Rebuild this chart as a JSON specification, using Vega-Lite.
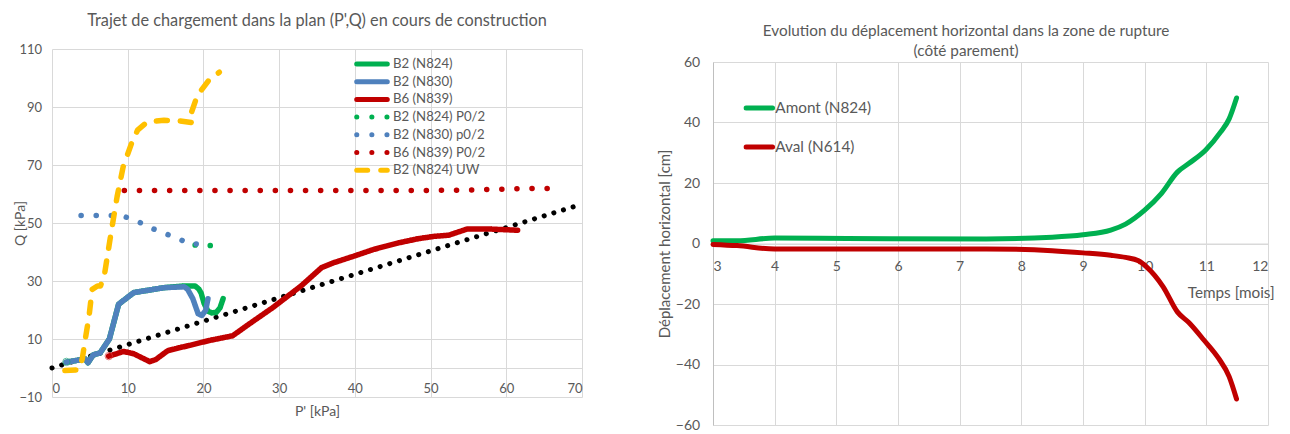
{
  "$schema": "https://vega.github.io/schema/vega-lite/v6.json",
  "padding": {"left": 13, "top": 12, "right": 0, "bottom": 0},
  "background": "white",
  "spacing": 65,
  "resolve": {"scale": {"color": "independent", "strokeDash": "independent"}, "legend": {"color": "independent", "strokeDash": "independent"}},
  "config": {
    "font": "Lato",
    "view": {"stroke": null},
    "axis": {
      "gridColor": "#D9D9D9",
      "domainColor": "#D9D9D9",
      "labelColor": "#595959",
      "titleColor": "#595959",
      "labelFont": "Lato",
      "titleFont": "Lato",
      "ticks": false,
      "titleFontWeight": "normal"
    },
    "title": {"color": "#595959", "fontWeight": "normal", "font": "Lato"},
    "legend": {"labelColor": "#595959", "labelFont": "Lato"}
  },
  "hconcat": [
    {
      "spacing": 0,
      "resolve": {"scale": {"color": "independent", "strokeDash": "independent"}, "legend": {"color": "independent", "strokeDash": "independent"}},
      "vconcat": [
        {"width": 1, "height": 1, "data": {"values": []}, "mark": "point"},
        {
          "width": 530,
          "height": 348,
          "title": {
            "text": "Trajet de chargement dans la plan (P',Q) en cours de construction",
            "fontSize": 16.3,
            "anchor": "middle",
            "frame": "group",
            "offset": 13.4
          },
          "layer": [
            {
              "data": {"values": [{"P": 0, "Q": 0}, {"P": 70, "Q": 56.5}]},
              "mark": {"type": "line", "color": "#000000", "strokeWidth": 5, "strokeDash": [0.1, 10], "strokeCap": "round"},
              "encoding": {
                "x": {
                  "field": "P", "type": "quantitative",
                  "scale": {"domain": [0, 70], "nice": false},
                  "axis": {
                    "values": [0, 10, 20, 30, 40, 50, 60, 70],
                    "offset": -29,
                    "labelFontSize": 13,
                    "labelPadding": 14.4,
                    "title": "P' [kPa]",
                    "titleFontSize": 14,
                    "titlePadding": 8.7
                  }
                },
                "y": {
                  "field": "Q", "type": "quantitative",
                  "scale": {"domain": [-10, 110], "nice": false, "zero": false},
                  "axis": {
                    "values": [-10, 10, 30, 50, 70, 90, 110],
                    "domain": false,
                    "labelFontSize": 13,
                    "labelPadding": 10.5,
                    "title": "Q [kPa]",
                    "titleFontSize": 14,
                    "titlePadding": -9
                  }
                }
              }
            },
            {
              "data": {
                "values": [
                  {"s": "B2 (N824)", "i": 1, "P": 1.87, "Q": 2.0},
                  {"s": "B2 (N824)", "i": 2, "P": 4.4, "Q": 3.1},
                  {"s": "B2 (N824)", "i": 3, "P": 4.75, "Q": 1.8},
                  {"s": "B2 (N824)", "i": 4, "P": 5.44, "Q": 4.5},
                  {"s": "B2 (N824)", "i": 5, "P": 6.35, "Q": 5.2},
                  {"s": "B2 (N824)", "i": 6, "P": 7.58, "Q": 10},
                  {"s": "B2 (N824)", "i": 7, "P": 8.8, "Q": 22},
                  {"s": "B2 (N824)", "i": 8, "P": 10.8, "Q": 26},
                  {"s": "B2 (N824)", "i": 9, "P": 14.8, "Q": 27.7},
                  {"s": "B2 (N824)", "i": 10, "P": 17.45, "Q": 28.3},
                  {"s": "B2 (N824)", "i": 11, "P": 18.9, "Q": 28.3},
                  {"s": "B2 (N824)", "i": 12, "P": 19.4, "Q": 27.2},
                  {"s": "B2 (N824)", "i": 13, "P": 19.7, "Q": 25.8},
                  {"s": "B2 (N824)", "i": 14, "P": 20.1, "Q": 22.2},
                  {"s": "B2 (N824)", "i": 15, "P": 20.6, "Q": 19.6},
                  {"s": "B2 (N824)", "i": 16, "P": 21.1, "Q": 19.0},
                  {"s": "B2 (N824)", "i": 17, "P": 21.7, "Q": 19.2},
                  {"s": "B2 (N824)", "i": 18, "P": 22.2, "Q": 20.8},
                  {"s": "B2 (N824)", "i": 19, "P": 22.6, "Q": 23.9},
                  {"s": "B2 (N830)", "i": 1, "P": 1.87, "Q": 2.0},
                  {"s": "B2 (N830)", "i": 2, "P": 4.4, "Q": 3.1},
                  {"s": "B2 (N830)", "i": 3, "P": 4.75, "Q": 1.8},
                  {"s": "B2 (N830)", "i": 4, "P": 5.44, "Q": 4.5},
                  {"s": "B2 (N830)", "i": 5, "P": 6.35, "Q": 5.2},
                  {"s": "B2 (N830)", "i": 6, "P": 7.58, "Q": 10},
                  {"s": "B2 (N830)", "i": 7, "P": 8.8, "Q": 22},
                  {"s": "B2 (N830)", "i": 8, "P": 10.8, "Q": 26},
                  {"s": "B2 (N830)", "i": 9, "P": 14.8, "Q": 27.7},
                  {"s": "B2 (N830)", "i": 10, "P": 17.45, "Q": 28.0},
                  {"s": "B2 (N830)", "i": 11, "P": 17.9, "Q": 27.2},
                  {"s": "B2 (N830)", "i": 12, "P": 18.6, "Q": 23.9},
                  {"s": "B2 (N830)", "i": 13, "P": 19.3, "Q": 18.7},
                  {"s": "B2 (N830)", "i": 14, "P": 19.8, "Q": 18.1},
                  {"s": "B2 (N830)", "i": 15, "P": 20.3, "Q": 19.9},
                  {"s": "B2 (N830)", "i": 16, "P": 20.6, "Q": 23.9},
                  {"s": "B6 (N839)", "i": 1, "P": 7.47, "Q": 4.06},
                  {"s": "B6 (N839)", "i": 2, "P": 9.45, "Q": 5.7},
                  {"s": "B6 (N839)", "i": 3, "P": 10.8, "Q": 4.9},
                  {"s": "B6 (N839)", "i": 4, "P": 12.9, "Q": 2.2},
                  {"s": "B6 (N839)", "i": 5, "P": 13.7, "Q": 2.9},
                  {"s": "B6 (N839)", "i": 6, "P": 15.3, "Q": 6.0},
                  {"s": "B6 (N839)", "i": 7, "P": 18.0, "Q": 7.7},
                  {"s": "B6 (N839)", "i": 8, "P": 20.65, "Q": 9.4},
                  {"s": "B6 (N839)", "i": 9, "P": 23.85, "Q": 11.1},
                  {"s": "B6 (N839)", "i": 10, "P": 26.0, "Q": 15.1},
                  {"s": "B6 (N839)", "i": 11, "P": 29.2, "Q": 20.9},
                  {"s": "B6 (N839)", "i": 12, "P": 32.9, "Q": 28.3},
                  {"s": "B6 (N839)", "i": 13, "P": 35.6, "Q": 34.6},
                  {"s": "B6 (N839)", "i": 14, "P": 37.2, "Q": 36.3},
                  {"s": "B6 (N839)", "i": 15, "P": 39.9, "Q": 38.6},
                  {"s": "B6 (N839)", "i": 16, "P": 42.5, "Q": 40.9},
                  {"s": "B6 (N839)", "i": 17, "P": 45.7, "Q": 43.1},
                  {"s": "B6 (N839)", "i": 18, "P": 48.4, "Q": 44.6},
                  {"s": "B6 (N839)", "i": 19, "P": 50.5, "Q": 45.4},
                  {"s": "B6 (N839)", "i": 20, "P": 52.4, "Q": 45.8},
                  {"s": "B6 (N839)", "i": 21, "P": 54.8, "Q": 47.9},
                  {"s": "B6 (N839)", "i": 22, "P": 58.0, "Q": 47.9},
                  {"s": "B6 (N839)", "i": 23, "P": 61.5, "Q": 47.5},
                  {"s": "B2 (N824) P0/2", "i": 1, "P": 18.9, "Q": 42.4},
                  {"s": "B2 (N824) P0/2", "i": 2, "P": 21.0, "Q": 42.2},
                  {"s": "B2 (N830) p0/2", "i": 1, "P": 3.84, "Q": 52.6},
                  {"s": "B2 (N830) p0/2", "i": 2, "P": 5.87, "Q": 52.6},
                  {"s": "B2 (N830) p0/2", "i": 3, "P": 7.84, "Q": 52.6},
                  {"s": "B2 (N830) p0/2", "i": 4, "P": 9.71, "Q": 52.1},
                  {"s": "B2 (N830) p0/2", "i": 5, "P": 11.58, "Q": 50.2},
                  {"s": "B2 (N830) p0/2", "i": 6, "P": 13.45, "Q": 47.9},
                  {"s": "B2 (N830) p0/2", "i": 7, "P": 15.3, "Q": 46.0},
                  {"s": "B2 (N830) p0/2", "i": 8, "P": 17.0, "Q": 44.3},
                  {"s": "B2 (N830) p0/2", "i": 9, "P": 18.0, "Q": 42.8},
                  {"s": "B2 (N830) p0/2", "i": 10, "P": 18.7, "Q": 42.8},
                  {"s": "B2 (N830) p0/2", "i": 11, "P": 20.5, "Q": 42.6},
                  {"s": "B6 (N839) P0/2", "i": 1, "P": 9.55, "Q": 61.2},
                  {"s": "B6 (N839) P0/2", "i": 2, "P": 30.0, "Q": 61.2},
                  {"s": "B6 (N839) P0/2", "i": 3, "P": 49.5, "Q": 61.2},
                  {"s": "B6 (N839) P0/2", "i": 4, "P": 55.3, "Q": 61.4},
                  {"s": "B6 (N839) P0/2", "i": 5, "P": 61.2, "Q": 61.8},
                  {"s": "B6 (N839) P0/2", "i": 6, "P": 67.3, "Q": 62.0},
                  {"s": "B2 (N824) UW", "i": 1, "P": 1.7, "Q": -0.9},
                  {"s": "B2 (N824) UW", "i": 2, "P": 3.6, "Q": -0.6},
                  {"s": "B2 (N824) UW", "i": 3, "P": 4.0, "Q": 3.2},
                  {"s": "B2 (N824) UW", "i": 4, "P": 4.4, "Q": 10},
                  {"s": "B2 (N824) UW", "i": 5, "P": 4.9, "Q": 18},
                  {"s": "B2 (N824) UW", "i": 6, "P": 5.3, "Q": 27.1},
                  {"s": "B2 (N824) UW", "i": 7, "P": 6.0, "Q": 28.3},
                  {"s": "B2 (N824) UW", "i": 8, "P": 6.4, "Q": 28.3},
                  {"s": "B2 (N824) UW", "i": 9, "P": 6.9, "Q": 31.7},
                  {"s": "B2 (N824) UW", "i": 10, "P": 7.8, "Q": 46.6},
                  {"s": "B2 (N824) UW", "i": 11, "P": 8.6, "Q": 59.1},
                  {"s": "B2 (N824) UW", "i": 12, "P": 9.4, "Q": 69.4},
                  {"s": "B2 (N824) UW", "i": 13, "P": 10.5, "Q": 77.4},
                  {"s": "B2 (N824) UW", "i": 14, "P": 11.3, "Q": 82.0},
                  {"s": "B2 (N824) UW", "i": 15, "P": 12.6, "Q": 84.9},
                  {"s": "B2 (N824) UW", "i": 16, "P": 14.8, "Q": 85.4},
                  {"s": "B2 (N824) UW", "i": 17, "P": 16.9, "Q": 85.2},
                  {"s": "B2 (N824) UW", "i": 18, "P": 18.6, "Q": 84.6},
                  {"s": "B2 (N824) UW", "i": 19, "P": 18.4, "Q": 88.0},
                  {"s": "B2 (N824) UW", "i": 20, "P": 19.2, "Q": 94.0},
                  {"s": "B2 (N824) UW", "i": 21, "P": 20.7, "Q": 99.2},
                  {"s": "B2 (N824) UW", "i": 22, "P": 22.1, "Q": 102.0}
                ]
              },
              "mark": {"type": "line", "strokeWidth": 5.5, "strokeCap": "round", "strokeJoin": "round"},
              "encoding": {
                "x": {"field": "P", "type": "quantitative"},
                "y": {"field": "Q", "type": "quantitative"},
                "order": {"field": "i", "type": "quantitative"},
                "color": {
                  "field": "s", "type": "nominal",
                  "scale": {
                    "domain": ["B2 (N824)", "B2 (N830)", "B6 (N839)", "B2 (N824) P0/2", "B2 (N830) p0/2", "B6 (N839) P0/2", "B2 (N824) UW"],
                    "range": ["#00B050", "#4F81BD", "#C00000", "#00B050", "#4F81BD", "#C00000", "#FFC000"]
                  },
                  "legend": {
                    "title": null,
                    "orient": "none",
                    "legendX": 302,
                    "legendY": 8,
                    "symbolType": "stroke",
                    "symbolSize": 936,
                    "symbolStrokeWidth": 5,
                    "clipHeight": 14,
                    "rowPadding": 3.7,
                    "labelFontSize": 13.2,
                    "labelOffset": 3,
                    "encoding": {"symbols": {"strokeCap": {"value": "round"}}}
                  }
                },
                "strokeDash": {
                  "field": "s", "type": "nominal",
                  "scale": {
                    "domain": ["B2 (N824)", "B2 (N830)", "B6 (N839)", "B2 (N824) P0/2", "B2 (N830) p0/2", "B6 (N839) P0/2", "B2 (N824) UW"],
                    "range": [[1, 0], [1, 0], [1, 0], [0.1, 15], [0.1, 15], [0.1, 15], [11, 13]]
                  },
                  "legend": {
                    "title": null,
                    "orient": "none",
                    "legendX": 302,
                    "legendY": 8,
                    "symbolType": "stroke",
                    "symbolSize": 936,
                    "symbolStrokeWidth": 5,
                    "clipHeight": 14,
                    "rowPadding": 3.7,
                    "labelFontSize": 13.2,
                    "labelOffset": 3,
                    "encoding": {"symbols": {"strokeCap": {"value": "round"}}}
                  }
                }
              }
            },
            {
              "data": {"values": [{"P": 1.9, "Q": 2.1}]},
              "mark": {"type": "point", "shape": "circle", "filled": false, "size": 55, "strokeWidth": 1, "color": "#1FA37A"},
              "encoding": {"x": {"field": "P", "type": "quantitative"}, "y": {"field": "Q", "type": "quantitative"}}
            },
            {
              "data": {"values": [{"P": 7.5, "Q": 4.1}]},
              "mark": {"type": "point", "shape": "circle", "filled": false, "size": 55, "strokeWidth": 1, "color": "#E04040"},
              "encoding": {"x": {"field": "P", "type": "quantitative"}, "y": {"field": "Q", "type": "quantitative"}}
            }
          ]
        }
      ]
    },
    {
      "spacing": 0,
      "resolve": {"scale": {"color": "independent"}, "legend": {"color": "independent"}},
      "vconcat": [
        {"width": 1, "height": 11, "data": {"values": []}, "mark": "point"},
        {
          "width": 555,
          "height": 363,
          "title": {
            "text": ["Evolution du déplacement horizontal dans la zone de rupture", "(côté parement)"],
            "fontSize": 15.3,
            "lineHeight": 20,
            "anchor": "middle",
            "frame": "bounds",
            "offset": -4
          },
          "data": {
            "values": [
              {"s": "Amont (N824)", "t": 3.0, "d": 0.9},
              {"s": "Amont (N824)", "t": 3.39, "d": 0.9},
              {"s": "Amont (N824)", "t": 4.0, "d": 1.8},
              {"s": "Amont (N824)", "t": 5.17, "d": 1.65},
              {"s": "Amont (N824)", "t": 7.43, "d": 1.5},
              {"s": "Amont (N824)", "t": 8.5, "d": 2.1},
              {"s": "Amont (N824)", "t": 9.0, "d": 2.9},
              {"s": "Amont (N824)", "t": 9.45, "d": 4.4},
              {"s": "Amont (N824)", "t": 9.69, "d": 6.4},
              {"s": "Amont (N824)", "t": 10.0, "d": 11.0},
              {"s": "Amont (N824)", "t": 10.27, "d": 16.5},
              {"s": "Amont (N824)", "t": 10.53, "d": 23.6},
              {"s": "Amont (N824)", "t": 10.72, "d": 26.5},
              {"s": "Amont (N824)", "t": 10.99, "d": 30.9},
              {"s": "Amont (N824)", "t": 11.23, "d": 36.8},
              {"s": "Amont (N824)", "t": 11.37, "d": 41.2},
              {"s": "Amont (N824)", "t": 11.49, "d": 48.1},
              {"s": "Aval (N614)", "t": 3.0, "d": -0.3},
              {"s": "Aval (N614)", "t": 3.39, "d": -0.7},
              {"s": "Aval (N614)", "t": 4.0, "d": -1.8},
              {"s": "Aval (N614)", "t": 7.43, "d": -1.8},
              {"s": "Aval (N614)", "t": 8.5, "d": -2.4},
              {"s": "Aval (N614)", "t": 9.0, "d": -3.1},
              {"s": "Aval (N614)", "t": 9.45, "d": -3.9},
              {"s": "Aval (N614)", "t": 9.69, "d": -4.6},
              {"s": "Aval (N614)", "t": 9.9, "d": -5.7},
              {"s": "Aval (N614)", "t": 10.03, "d": -7.7},
              {"s": "Aval (N614)", "t": 10.3, "d": -14.3},
              {"s": "Aval (N614)", "t": 10.53, "d": -22.6},
              {"s": "Aval (N614)", "t": 10.72, "d": -26.2},
              {"s": "Aval (N614)", "t": 10.96, "d": -31.9},
              {"s": "Aval (N614)", "t": 11.2, "d": -38.0},
              {"s": "Aval (N614)", "t": 11.37, "d": -44.0},
              {"s": "Aval (N614)", "t": 11.49, "d": -51.4}
            ]
          },
          "mark": {"type": "line", "interpolate": "monotone", "strokeWidth": 5, "strokeCap": "round"},
          "encoding": {
            "x": {
              "field": "t", "type": "quantitative",
              "scale": {"domain": [3, 12], "nice": false, "zero": false},
              "axis": {
                "values": [3, 4, 5, 6, 7, 8, 9, 10, 11, 12],
                "offset": -181.5,
                "labelFontSize": 14,
                "labelPadding": 16.3,
                "title": "Temps [mois]",
                "titleFontSize": 15.3,
                "titleAnchor": "end",
                "titleAlign": "right",
                "titleX": 561.2,
                "titlePadding": 12
              }
            },
            "y": {
              "field": "d", "type": "quantitative",
              "scale": {"domain": [-60, 60], "nice": false},
              "axis": {
                "values": [-60, -40, -20, 0, 20, 40, 60],
                "domain": true,
                "domainColor": "#BFBFBF",
                "labelFontSize": 14,
                "labelPadding": 13.3,
                "title": "Déplacement horizontal [cm]",
                "titleFontSize": 15,
                "titlePadding": 2.4
              }
            },
            "color": {
              "field": "s", "type": "nominal",
              "scale": {"domain": ["Amont (N824)", "Aval (N614)"], "range": ["#00B050", "#C00000"]},
              "legend": {
                "title": null,
                "orient": "none",
                "legendX": 30.3,
                "legendY": 37,
                "symbolType": "stroke",
                "symbolSize": 702,
                "symbolStrokeWidth": 5,
                "clipHeight": 18,
                "rowPadding": 21,
                "labelFontSize": 15.3,
                "labelOffset": 0,
                "encoding": {"symbols": {"strokeCap": {"value": "round"}}}
              }
            }
          }
        }
      ]
    }
  ]
}
